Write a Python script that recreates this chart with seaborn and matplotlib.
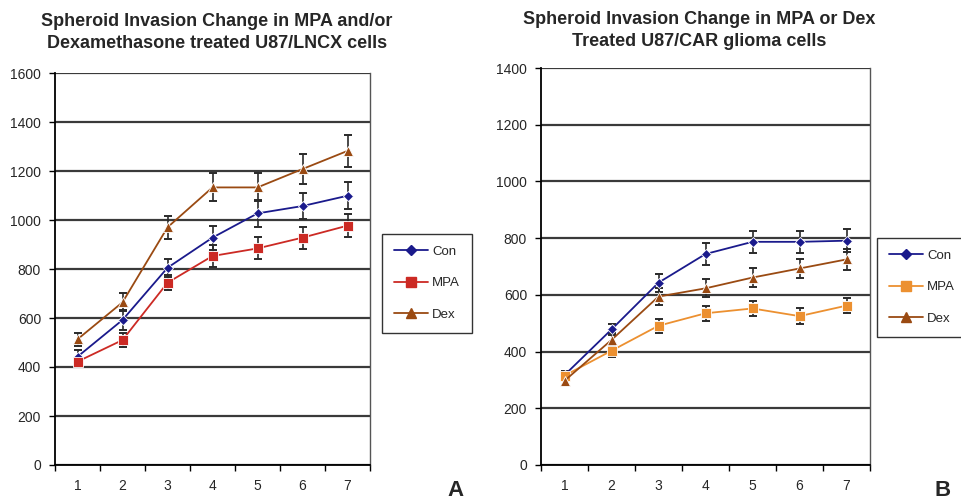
import matplotlib
matplotlib.use("Agg")
import matplotlib.pyplot as plt
import seaborn as sns
import pandas as pd
import numpy as np
from matplotlib.lines import Line2D

sns.set_theme(style="white")
plt.rcParams['font.family'] = ['Liberation Sans', 'DejaVu Sans']

days = [1, 2, 3, 4, 5, 6, 7]

# Panel A: U87/LNCX
a_con = [442, 592, 805, 928, 1027, 1057, 1099]
a_con_err = [27, 41, 37, 49, 54, 54, 56]
a_mpa = [422, 510, 744, 853, 884, 928, 977]
a_mpa_err = [15, 28, 30, 44, 45, 45, 46]
a_dex = [513, 664, 970, 1133, 1133, 1208, 1282]
a_dex_err = [27, 37, 47, 57, 57, 60, 64]

# Panel B: U87/CAR
b_con = [317, 478, 643, 744, 787, 787, 791]
b_con_err = [15, 20, 32, 38, 38, 38, 41]
b_mpa = [315, 403, 491, 535, 552, 525, 562]
b_mpa_err = [15, 21, 25, 27, 28, 27, 27]
b_dex = [297, 441, 594, 623, 661, 693, 725]
b_dex_err = [15, 24, 30, 32, 33, 35, 37]

series = ["Con", "MPA", "Dex"]
markers = {"Con": "D", "MPA": "s", "Dex": "^"}
msize = {"Con": 5, "MPA": 7, "Dex": 7}

pal_a = {"Con": "#1a1a8c", "MPA": "#cc2a24", "Dex": "#9a4a12"}
pal_b = {"Con": "#1a1a8c", "MPA": "#ec9030", "Dex": "#9a4a12"}

fig = plt.figure(figsize=(9.61, 5.03), dpi=100)
axA = fig.add_axes([55/961, 1-465/503, 315/961, 392/503])
axB = fig.add_axes([541/961, 1-465/503, 329/961, 397/503])


def draw(ax, vals, errs, pal, ymax):
    rows = []
    for s, v in zip(series, vals):
        for d, y in zip(days, v):
            rows.append({"day": d, "value": y, "series": s})
    df = pd.DataFrame(rows)
    for i, s in enumerate(series):
        ax.errorbar(days, vals[i], yerr=errs[i],
                    fmt="none", ecolor="#2a2a2a", elinewidth=1.2, capsize=2.8,
                    capthick=1.4, zorder=2)
    sns.lineplot(data=df, x="day", y="value", hue="series", style="series",
                 markers=markers, dashes=False, palette=pal, ax=ax,
                 linewidth=1.3, legend=False, zorder=3, markeredgewidth=0.6)
    for line in ax.get_lines():
        m = line.get_marker()
        if m == "D":
            line.set_markersize(5.5)
        elif m == "s":
            line.set_markersize(7)
        elif m == "^":
            line.set_markersize(7)
    ax.set_xlim(0.5, 7.5)
    ax.set_ylim(0, ymax)
    ax.set_yticks(np.arange(0, ymax + 1, 200))
    ax.yaxis.grid(True, color="#3a3a3a", linewidth=1.6)
    ax.set_axisbelow(True)
    ax.set_xticks(days)
    ax.set_xticks(np.arange(0.5, 8, 1), minor=True)
    ax.tick_params(axis="x", which="major", length=0, pad=10, labelsize=10)
    ax.tick_params(axis="x", which="minor", length=4, width=1, color="black", direction="out", bottom=True)
    ax.tick_params(axis="y", length=4, width=1, color="black", direction="out", left=True, labelsize=10, pad=6)
    ax.set_xlabel("")
    ax.set_ylabel("")
    for sp in ["left", "bottom"]:
        ax.spines[sp].set_color("black")
        ax.spines[sp].set_linewidth(1.3)
    ax.spines["right"].set_color("#555555")
    ax.spines["right"].set_linewidth(1.0)
    ax.spines["top"].set_visible(False)


draw(axA, [a_con, a_mpa, a_dex], [a_con_err, a_mpa_err, a_dex_err], pal_a, 1600)
draw(axB, [b_con, b_mpa, b_dex], [b_con_err, b_mpa_err, b_dex_err], pal_b, 1400)


def legend(ax, pal, x, y):
    handles = [Line2D([0], [0], color=pal[s], marker=markers[s], markersize=msize[s],
                      linewidth=1.3) for s in series]
    leg = ax.legend(handles, series, loc="upper left", bbox_to_anchor=(x, y),
                    bbox_transform=fig.transFigure, frameon=True, fancybox=False,
                    edgecolor="black", fontsize=9.5, labelspacing=1.45,
                    handlelength=2.6, handletextpad=0.3, borderpad=0.9,
                    borderaxespad=0)
    leg.get_frame().set_linewidth(1.0)


legend(axA, pal_a, 382/961, 1-234/503)
legend(axB, pal_b, 877/961, 1-238/503)

fig.text(217/961, 1-21/503, "Spheroid Invasion Change in MPA and/or",
         ha="center", va="center", fontsize=13, fontweight="bold")
fig.text(217/961, 1-43/503, "Dexamethasone treated U87/LNCX cells",
         ha="center", va="center", fontsize=13, fontweight="bold")
fig.text(699/961, 1-20/503, "Spheroid Invasion Change in MPA or Dex",
         ha="center", va="center", fontsize=13, fontweight="bold")
fig.text(699/961, 1-42/503, "Treated U87/CAR glioma cells",
         ha="center", va="center", fontsize=13, fontweight="bold")
fig.text(455/961, 1-490/503, "A", ha="center", va="center", fontsize=16, fontweight="bold")
fig.text(943/961, 1-490/503, "B", ha="center", va="center", fontsize=16, fontweight="bold")

fig.savefig("out.png", dpi=100, facecolor="white")
